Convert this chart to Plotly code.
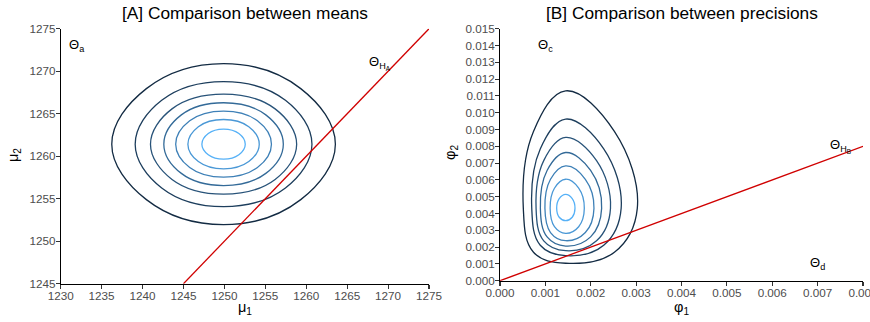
import plotly.graph_objects as go

# ---------------- Panel A: comparison between means (mu1, mu2) ----------------
# density contour rings, outer to inner (N, NE, E, SE, S, SW, W, NW)
mean_ring1_x = [1249.9, 1259.33, 1263.56, 1259.33, 1249.9, 1240.47, 1236.24, 1240.47]
mean_ring1_y = [1270.89, 1267.95, 1261.42, 1254.89, 1251.95, 1254.89, 1261.42, 1267.95]
mean_ring2_x = [1249.9, 1257.46, 1260.70, 1257.46, 1249.9, 1242.34, 1239.10, 1242.34]
mean_ring2_y = [1268.77, 1266.57, 1261.42, 1256.27, 1254.07, 1256.27, 1261.42, 1266.57]
mean_ring3_x = [1249.9, 1256.20, 1258.83, 1256.20, 1249.9, 1243.60, 1240.97, 1243.60]
mean_ring3_y = [1267.30, 1265.57, 1261.42, 1257.27, 1255.54, 1257.27, 1261.42, 1265.57]
mean_ring4_x = [1249.9, 1255.06, 1257.20, 1255.06, 1249.9, 1244.74, 1242.60, 1244.74]
mean_ring4_y = [1266.29, 1264.86, 1261.42, 1257.98, 1256.55, 1257.98, 1261.42, 1264.86]
mean_ring5_x = [1249.9, 1254.04, 1255.75, 1254.04, 1249.9, 1245.76, 1244.05, 1245.76]
mean_ring5_y = [1265.30, 1264.16, 1261.42, 1258.68, 1257.54, 1258.68, 1261.42, 1264.16]
mean_ring6_x = [1249.9, 1252.98, 1254.26, 1252.98, 1249.9, 1246.82, 1245.54, 1246.82]
mean_ring6_y = [1264.32, 1263.47, 1261.42, 1259.37, 1258.52, 1259.37, 1261.42, 1263.47]
mean_ring7_x = [1249.9, 1251.77, 1252.55, 1251.77, 1249.9, 1248.03, 1247.25, 1248.03]
mean_ring7_y = [1263.18, 1262.66, 1261.42, 1260.18, 1259.66, 1260.18, 1261.42, 1262.66]

mean_h0_x = [1245, 1275]
mean_h0_y = [1245, 1275]

# ---------------- Panel B: comparison between precisions (phi1, phi2) ----------------
prec_ring1_x = [0.001447, 0.002521, 0.003026, 0.002521, 0.001447, 0.000738, 0.000514, 0.000738]
prec_ring1_y = [0.011300, 0.008887, 0.004306, 0.001693, 0.001040, 0.001693, 0.004306, 0.008887]
prec_ring2_x = [0.001447, 0.002286, 0.002670, 0.002286, 0.001447, 0.000887, 0.000700, 0.000887]
prec_ring2_y = [0.009620, 0.007845, 0.004306, 0.002110, 0.001490, 0.002110, 0.004306, 0.007845]
prec_ring3_x = [0.001447, 0.002128, 0.002435, 0.002128, 0.001447, 0.000964, 0.000795, 0.000964]
prec_ring3_y = [0.008530, 0.007149, 0.004306, 0.002372, 0.001785, 0.002372, 0.004306, 0.007149]
prec_ring4_x = [0.001447, 0.001997, 0.002240, 0.001997, 0.001447, 0.001038, 0.000890, 0.001038]
prec_ring4_y = [0.007630, 0.006563, 0.004306, 0.002608, 0.002063, 0.002608, 0.004306, 0.006563]
prec_ring5_x = [0.001447, 0.001881, 0.002071, 0.001881, 0.001447, 0.001113, 0.000990, 0.001113]
prec_ring5_y = [0.006835, 0.006038, 0.004306, 0.002867, 0.002380, 0.002867, 0.004306, 0.006038]
prec_ring6_x = [0.001447, 0.001734, 0.001858, 0.001734, 0.001447, 0.001200, 0.001105, 0.001200]
prec_ring6_y = [0.006040, 0.005504, 0.004306, 0.003212, 0.002817, 0.003212, 0.004306, 0.005504]
prec_ring7_x = [0.001447, 0.001592, 0.001653, 0.001592, 0.001447, 0.001305, 0.001249, 0.001305]
prec_ring7_y = [0.005139, 0.004888, 0.004306, 0.003775, 0.003570, 0.003775, 0.004306, 0.004888]

prec_h0_x = [0.0, 0.008]
prec_h0_y = [0.0, 0.008]

ring_colors = ["#132B43", "#1D3E5D", "#285379", "#336A98", "#3E80B7", "#4A98D6", "#56B1F7"]

mean_rings = [(mean_ring1_x, mean_ring1_y), (mean_ring2_x, mean_ring2_y), (mean_ring3_x, mean_ring3_y),
              (mean_ring4_x, mean_ring4_y), (mean_ring5_x, mean_ring5_y), (mean_ring6_x, mean_ring6_y),
              (mean_ring7_x, mean_ring7_y)]
prec_rings = [(prec_ring1_x, prec_ring1_y), (prec_ring2_x, prec_ring2_y), (prec_ring3_x, prec_ring3_y),
              (prec_ring4_x, prec_ring4_y), (prec_ring5_x, prec_ring5_y), (prec_ring6_x, prec_ring6_y),
              (prec_ring7_x, prec_ring7_y)]

W, H = 870, 322
FONT = "Liberation Sans, Arial, sans-serif"
fig = go.Figure()

def add_rings(rings, xa, ya):
    for (xs, ys), c in zip(rings, ring_colors):
        fig.add_trace(go.Scatter(x=list(xs) + [xs[0]], y=list(ys) + [ys[0]], mode="lines",
                                 line=dict(color=c, width=1.3, shape="spline", smoothing=1.12),
                                 xaxis=xa, yaxis=ya, showlegend=False, hoverinfo="skip"))

add_rings(mean_rings, "x", "y")
fig.add_trace(go.Scatter(x=mean_h0_x, y=mean_h0_y, mode="lines", line=dict(color="#D00000", width=1.3),
                         xaxis="x", yaxis="y", showlegend=False, hoverinfo="skip"))
add_rings(prec_rings, "x2", "y2")
fig.add_trace(go.Scatter(x=prec_h0_x, y=prec_h0_y, mode="lines", line=dict(color="#D00000", width=1.3),
                         xaxis="x2", yaxis="y2", showlegend=False, hoverinfo="skip"))

def px_x(p):
    return p / W

def px_y(p):
    return 1 - p / H

axis_common = dict(showline=True, linecolor="black", linewidth=1.1, ticks="outside", ticklen=3.7,
                   tickcolor="#333333", tickwidth=1.1, showgrid=False, zeroline=False, automargin=False,
                   ticklabeloverflow="allow",
                   tickfont=dict(family=FONT, size=11.7, color="#4D4D4D"))

fig.update_layout(
    width=W, height=H, margin=dict(l=0, r=0, t=0, b=0, pad=0, autoexpand=False),
    paper_bgcolor="white", plot_bgcolor="white", showlegend=False,
    xaxis=dict(domain=[px_x(60.7), px_x(429)], range=[1230, 1275], dtick=5, tick0=1230, anchor="y",
               ticklabelstandoff=-3, **axis_common),
    yaxis=dict(domain=[px_y(283.7), px_y(28.7)], range=[1245, 1275], dtick=5, tick0=1245, anchor="x",
               ticklabelstandoff=-2, **axis_common),
    xaxis2=dict(domain=[px_x(500), px_x(863)], range=[0, 0.008], dtick=0.001, tick0=0, tickformat=".3f",
                anchor="y2", ticklabelstandoff=-3, **axis_common),
    yaxis2=dict(domain=[px_y(280.7), px_y(28.7)], range=[0, 0.015], dtick=0.001, tick0=0, tickformat=".3f",
                anchor="x2", ticklabelstandoff=-2, **axis_common),
)

ann = []
# titles
ann.append(dict(text="[A] Comparison between means", x=px_x(245), y=px_y(12.5), xref="paper", yref="paper",
                showarrow=False, xanchor="center", yanchor="middle", font=dict(family=FONT, size=17.3, color="black")))
ann.append(dict(text="[B] Comparison between precisions", x=px_x(681.5), y=px_y(12.5), xref="paper", yref="paper",
                showarrow=False, xanchor="center", yanchor="middle", font=dict(family=FONT, size=17.3, color="black")))
# axis titles
ttl = dict(family=FONT, size=14.5, color="black")
ann.append(dict(text="μ<sub>1</sub>", x=px_x(245), y=px_y(308), xref="paper", yref="paper", showarrow=False,
                xanchor="center", yanchor="middle", font=ttl))
ann.append(dict(text="μ<sub>2</sub>", x=px_x(14), y=px_y(155), xref="paper", yref="paper", showarrow=False,
                xanchor="center", yanchor="middle", textangle=-90, font=ttl))
ann.append(dict(text="φ<sub>1</sub>", x=px_x(681), y=px_y(308), xref="paper", yref="paper", showarrow=False,
                xanchor="center", yanchor="middle", font=ttl))
ann.append(dict(text="φ<sub>2</sub>", x=px_x(451), y=px_y(153), xref="paper", yref="paper", showarrow=False,
                xanchor="center", yanchor="middle", textangle=-90, font=ttl))
# region labels
lab = dict(family=FONT, size=13, color="black")
ann.append(dict(text="Θ<sub>a</sub>", x=1232, y=1273, xref="x", yref="y", showarrow=False,
                xanchor="center", yanchor="middle", font=lab))
ann.append(dict(text="Θ<sub>H<sub>A</sub></sub>", x=1269, y=1271, xref="x", yref="y", showarrow=False,
                xanchor="center", yanchor="middle", font=lab))
ann.append(dict(text="Θ<sub>c</sub>", x=0.001, y=0.014, xref="x2", yref="y2", showarrow=False,
                xanchor="center", yanchor="middle", font=lab))
ann.append(dict(text="Θ<sub>H<sub>B</sub></sub>", x=0.0075, y=0.008, xref="x2", yref="y2", showarrow=False,
                xanchor="center", yanchor="middle", font=lab))
ann.append(dict(text="Θ<sub>d</sub>", x=0.007, y=0.001, xref="x2", yref="y2", showarrow=False,
                xanchor="center", yanchor="middle", font=lab))
fig.update_layout(annotations=ann)

# the page's default body margin would push the figure 8 px in; remove it
fig.write_html("out.html", config={"displayModeBar": False, "staticPlot": True},
               post_script="document.body.style.margin='0px';")
